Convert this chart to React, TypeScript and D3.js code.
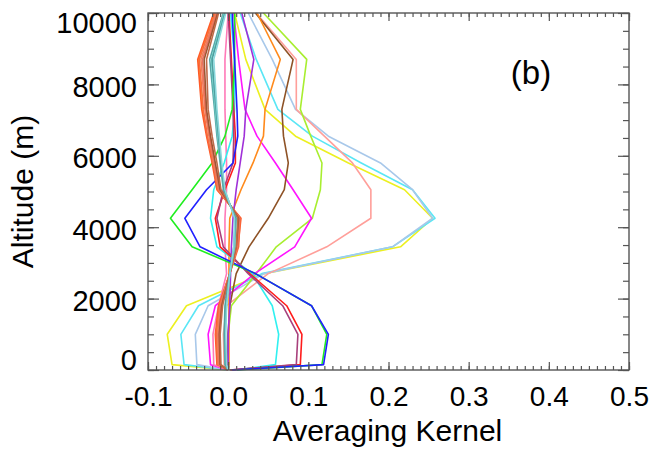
import React, { useEffect, useRef } from "react";
import * as d3 from "d3";

// retrieval levels (m), bottom to top
const altitude = [0, 150, 1000, 1800, 2700, 3450, 4250, 5050, 5800, 6550, 7300, 8700, 10000];

// averaging kernel rows, one value per level
const yellowAK = [0, -0.07, -0.076, -0.052, 0.045, 0.215, 0.255, 0.22, 0.15, 0.084, 0.046, 0.022, 0.008];
const cyanAK = [0, -0.055, -0.059, -0.037, 0.042, 0.205, 0.258, 0.23, 0.166, 0.105, 0.062, 0.035, 0.015];
const steelAK = [0, -0.039, -0.041, -0.025, 0.045, 0.205, 0.255, 0.23, 0.19, 0.125, 0.084, 0.055, 0.025];
const salmonAK = [0, -0.005, -0.006, -0.002, 0.05, 0.123, 0.178, 0.178, 0.155, 0.12, 0.085, 0.085, 0.035];
const limeAK = [0, 0, 0, 0.004, 0.035, 0.06, 0.105, 0.115, 0.117, 0.103, 0.09, 0.098, 0.044];
const magentaAK = [0, -0.022, -0.025, -0.016, 0.033, 0.083, 0.104, 0.081, 0.059, 0.036, 0.021, 0.013, 0.007];
const brownAK = [0, 0, 0, 0.002, 0.01, 0.026, 0.05, 0.07, 0.075, 0.069, 0.067, 0.081, 0.034];
const orangeAK = [0, 0.001, 0.001, 0.001, 0.001, 0.001, 0.002, 0.016, 0.031, 0.044, 0.046, 0.065, 0.036];
const violetAK = [0, 0, 0, 0.002, 0.003, 0.004, 0.006, 0.01, 0.015, 0.02, 0.022, 0.032, 0.017];
const pinkAK = [0, -0.018, -0.019, -0.012, -0.002, -0.004, -0.004, -0.002, -0.002, -0.003, -0.004, -0.004, 0];
const cyan2AK = [0.011, 0.059, 0.063, 0.055, 0.03, -0.014, -0.022, -0.018, -0.005, 0.005, 0.008, 0.008, 0.003];
const redAK = [0.003, 0.09, 0.092, 0.073, 0.027, -0.01, -0.016, -0.004, 0.009, 0.009, 0.007, 0.004, 0.001];
const maroonAK = [0.002, 0.085, 0.087, 0.068, 0.025, -0.006, -0.014, -0.006, 0.006, 0.007, 0.006, 0.003, 0];
const blueAK = [0.005, 0.119, 0.125, 0.104, 0.034, -0.035, -0.054, -0.027, 0.006, 0.012, 0.011, 0.008, 0.005];
const greenAK = [0.011, 0.117, 0.123, 0.104, 0.034, -0.045, -0.072, -0.045, -0.02, -0.004, 0.005, 0.008, 0.008];
// the bundle of low-information rows
const orangeRedAK = [0, -0.014, -0.016, -0.012, 0.002, 0.012, 0.016, -0.014, -0.02, -0.027, -0.033, -0.038, -0.018];
const tomatoAK = [0, -0.013, -0.015, -0.011, 0.002, 0.013, 0.015, -0.013, -0.019, -0.026, -0.031, -0.036, -0.016];
const goldAK = [0, -0.013, -0.014, -0.011, 0.002, 0.011, 0.015, -0.013, -0.019, -0.026, -0.032, -0.037, -0.017];
const coralAK = [0, -0.012, -0.013, -0.01, 0.002, 0.011, 0.014, -0.012, -0.018, -0.024, -0.029, -0.034, -0.015];
const salmonRedAK = [0, -0.011, -0.012, -0.009, 0.002, 0.011, 0.014, -0.011, -0.017, -0.023, -0.028, -0.032, -0.014];
const siennaAK = [0, -0.01, -0.011, -0.008, 0.002, 0.01, 0.013, -0.01, -0.016, -0.022, -0.027, -0.03, -0.013];
const sienna2AK = [0, -0.009, -0.01, -0.007, 0.002, 0.01, 0.012, -0.009, -0.014, -0.02, -0.025, -0.027, -0.012];
const cadetAK = [0, -0.004, -0.005, -0.004, 0.002, 0.008, 0.01, -0.006, -0.01, -0.014, -0.017, -0.023, -0.006];
const aquaAK = [0, -0.003, -0.004, -0.002, 0.002, 0.008, 0.009, -0.005, -0.009, -0.013, -0.016, -0.021, -0.005];
const tealAK = [0, -0.003, -0.004, -0.003, 0.002, 0.007, 0.009, -0.005, -0.009, -0.012, -0.015, -0.02, -0.004];
const turquoiseAK = [0, -0.002, -0.003, -0.002, 0.002, 0.007, 0.008, -0.004, -0.008, -0.011, -0.014, -0.018, -0.003];

const kernels = [
  { name: "yellow", values: yellowAK },
  { name: "cyan", values: cyanAK },
  { name: "steel", values: steelAK },
  { name: "salmon", values: salmonAK },
  { name: "lime", values: limeAK },
  { name: "magenta", values: magentaAK },
  { name: "brown", values: brownAK },
  { name: "orange", values: orangeAK },
  { name: "violet", values: violetAK },
  { name: "pink", values: pinkAK },
  { name: "cyan2", values: cyan2AK },
  { name: "red", values: redAK },
  { name: "maroon", values: maroonAK },
  { name: "green", values: greenAK },
  { name: "blue", values: blueAK },
  { name: "gold", values: goldAK },
  { name: "orangeRed", values: orangeRedAK },
  { name: "tomato", values: tomatoAK },
  { name: "coral", values: coralAK },
  { name: "salmonRed", values: salmonRedAK },
  { name: "sienna", values: siennaAK },
  { name: "sienna2", values: sienna2AK },
  { name: "cadet", values: cadetAK },
  { name: "aqua", values: aquaAK },
  { name: "teal", values: tealAK },
  { name: "turquoise", values: turquoiseAK },
];

const colors = {
  yellow: "#ecf020",
  cyan: "#5ae6f5",
  steel: "#a8c8ea",
  salmon: "#ff9f9a",
  lime: "#a8ee30",
  magenta: "#ff14ff",
  brown: "#8e5226",
  orange: "#ff8a1c",
  violet: "#a030d8",
  pink: "#ff7ab8",
  cyan2: "#30f0f0",
  red: "#ff1c1c",
  maroon: "#a8407c",
  green: "#20ee20",
  blue: "#2020ff",
  gold: "#ffb820",
  orangeRed: "#ff5a28",
  tomato: "#f86a40",
  coral: "#f08058",
  salmonRed: "#e87060",
  sienna: "#a05530",
  sienna2: "#c06a48",
  cadet: "#58a8a8",
  aqua: "#70d0c8",
  teal: "#4e9e9e",
  turquoise: "#88d8dc",
};

const xTicks = [-0.1, 0, 0.1, 0.2, 0.3, 0.4, 0.5];
const yTicks = [0, 2000, 4000, 6000, 8000, 10000];

const font = "'Liberation Sans', Arial, Helvetica, sans-serif";

export default function App() {
  const ref = useRef(null);

  useEffect(() => {
    const width = 654;
    const height = 450;
    const left = 148;
    const right = 629;
    const top = 13;
    const bottom = 370;

    const x = d3.scaleLinear().domain([-0.1, 0.5]).range([left, right]);
    const y = d3.scaleLinear().domain([0, 10000]).range([bottom, top]);

    const svg = d3.select(ref.current).attr("width", width).attr("height", height);
    svg.selectAll("*").remove();

    svg.append("rect").attr("width", width).attr("height", height).attr("fill", "white");

    // kernel lines
    const line = d3
      .line<number>()
      .x((d) => x(d))
      .y((_, i) => y(altitude[i]));

    svg
      .append("g")
      .selectAll("path")
      .data(kernels)
      .join("path")
      .attr("fill", "none")
      .attr("stroke", (d) => colors[d.name])
      .attr("stroke-width", 1.6)
      .attr("stroke-linejoin", "round")
      .attr("d", (d) => line(d.values));

    const axisColor = "#555";
    const minorX = d3.range(-10, 51).map((i) => i / 100);
    const minorY = d3.range(0, 10001, 500);

    const styleAxis = (g) => {
      g.select(".domain").remove();
      g.selectAll(".tick line").attr("stroke", axisColor).attr("stroke-width", 1.2);
    };

    // minor ticks, all four sides, pointing inward
    svg.append("g").attr("transform", `translate(0,${bottom})`)
      .call(d3.axisBottom(x).tickValues(minorX).tickSize(-4).tickFormat(() => "")).call(styleAxis);
    svg.append("g").attr("transform", `translate(0,${top})`)
      .call(d3.axisTop(x).tickValues(minorX).tickSize(-4).tickFormat(() => "")).call(styleAxis);
    svg.append("g").attr("transform", `translate(${left},0)`)
      .call(d3.axisLeft(y).tickValues(minorY).tickSize(-6).tickFormat(() => "")).call(styleAxis);
    svg.append("g").attr("transform", `translate(${right},0)`)
      .call(d3.axisRight(y).tickValues(minorY).tickSize(-6).tickFormat(() => "")).call(styleAxis);

    // major ticks
    svg.append("g").attr("transform", `translate(0,${top})`)
      .call(d3.axisTop(x).tickValues(xTicks).tickSize(-8).tickFormat(() => "")).call(styleAxis);
    svg.append("g").attr("transform", `translate(${right},0)`)
      .call(d3.axisRight(y).tickValues(yTicks).tickSize(-11).tickFormat(() => "")).call(styleAxis);

    svg
      .append("g")
      .attr("transform", `translate(0,${bottom})`)
      .call(d3.axisBottom(x).tickValues(xTicks).tickSize(-8).tickPadding(16).tickFormat((d) => d.toFixed(1)))
      .call(styleAxis)
      .call((g) => g.selectAll("text").attr("fill", "black").attr("font-size", 28).attr("font-family", font));

    svg
      .append("g")
      .attr("transform", `translate(${left},0)`)
      .call(d3.axisLeft(y).tickValues(yTicks).tickSize(-11).tickPadding(11).tickFormat((d) => String(d)))
      .call(styleAxis)
      .call((g) =>
        g
          .selectAll("text")
          .attr("fill", "black")
          .attr("font-size", 29)
          .attr("font-family", font)
          .attr("dy", (d) => (d === 10000 ? 19 : d === 0 ? -1 : 12))
      );

    // frame
    svg
      .append("rect")
      .attr("x", left)
      .attr("y", top)
      .attr("width", right - left)
      .attr("height", bottom - top)
      .attr("fill", "none")
      .attr("stroke", axisColor)
      .attr("stroke-width", 1.4);

    svg
      .append("text")
      .attr("x", (left + right) / 2 - 1)
      .attr("y", 441)
      .attr("text-anchor", "middle")
      .attr("font-size", 30)
      .attr("font-family", font)
      .text("Averaging Kernel");

    svg
      .append("text")
      .attr("transform", `translate(33,${(top + bottom) / 2}) rotate(-90)`)
      .attr("text-anchor", "middle")
      .attr("font-size", 30)
      .attr("font-family", font)
      .text("Altitude (m)");

    svg
      .append("text")
      .attr("x", 531)
      .attr("y", 84)
      .attr("text-anchor", "middle")
      .attr("font-size", 33)
      .attr("font-family", font)
      .text("(b)");
  }, []);

  return <svg ref={ref} style={{ position: "absolute", left: 0, top: 0 }}></svg>;
}
